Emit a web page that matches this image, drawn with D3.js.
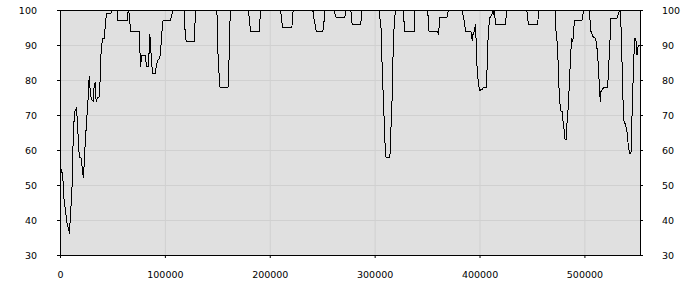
<!DOCTYPE html>
<html>
<head>
<meta charset="utf-8">
<script src="https://cdn.jsdelivr.net/npm/d3@7"></script>
<style>
  body { margin: 0; background: #fff; }
  text { font-family: "DejaVu Sans", Verdana, sans-serif; font-size: 9.5px; fill: #000; }
</style>
</head>
<body>
<svg id="canvas" width="700" height="300"></svg>
<script>
// sample positions and percentages
let xs = [
  635, 2538, 3807, 5075, 6979, 8247, 8882, 10151, 11420, 12054, 13323, 13957, 15860, 16495, 17764, 18398,
  20301, 21570, 22204, 22839, 24107, 26010, 26645, 27279, 28231, 28866, 30452, 31720, 32355, 33624, 34258,
  34892, 35527, 37430, 38064, 38699, 39333, 40602, 42505, 43139, 44408, 48214, 50117, 54558, 55192, 64074,
  65026, 65977, 67246, 75494, 76128, 76763, 78032, 81204, 82473, 84376, 85645, 86913, 88182, 90720, 91988,
  93257, 95160, 96429, 97698, 98332, 105311, 106580, 107848,
  118328, 118962, 120231, 127844, 128478, 129747, 149413, 150048, 150682, 151951, 152585, 160198, 160832,
  161467, 162101, 162736, 179864, 180499, 181767, 190014, 190648, 191283, 210314, 210950, 212219, 221100,
  221735, 222369,
  241095, 241729, 242998, 244267, 250611, 251880, 252514, 261396, 262030, 263299, 271546, 272180, 272815,
  277256, 277890, 278524, 286772, 287406, 288040, 304535, 305169, 306438, 307072, 308341, 309610, 310244,
  310879, 314051, 314685, 315320, 316589, 317223, 318492, 319760, 327373, 328008, 328642,
  337853, 338487, 350541, 351175, 351810, 360057, 360691, 361326, 361960, 368938, 369573, 370207, 383529,
  384164, 385433, 386702, 391777, 392411, 393046, 393680, 394949, 396218, 396852, 397487, 398755, 400024,
  402562, 403830, 406368, 407002, 407637, 408271, 409540, 411443, 412712, 413346, 413981, 414615, 415249,
  424766, 425400, 426035, 445067, 445701,
  446664, 455546, 456180, 472040, 472674, 474577, 475212, 476481, 477750, 479018, 479653, 480922, 481556,
  482825, 483459, 484728, 485997, 487266, 487900, 488534, 489169, 490438, 497416, 498050, 499319, 504394,
  505029, 506298, 508201, 510739, 512007, 513276, 514545, 515179, 515814, 517082, 518351, 522157, 522792,
  524061, 525329, 531039, 532942, 533577, 534211, 534846, 536114, 536749, 537383, 539286, 540555, 541824,
  543093, 544361, 544996, 545630, 546899, 547534, 548168, 549437, 550072, 550706, 551341, 552610
]
let ys = [
  55, 52.9, 46, 43, 38.6, 37.6, 36, 41.9, 49, 58.6, 68, 71, 72, 68, 61.4, 58,
  57.6, 53.8, 52, 54.8, 62.4, 71, 73.8, 79.5, 81, 75.7, 74.3, 74, 77.6, 79.5, 74.8,
  73.8, 75, 75.2, 78.6, 84.8, 89, 91.9, 92, 96, 99, 99, 100, 100, 97.1, 97.1,
  100, 99, 94, 94, 89, 83.8, 87.1, 87.1, 83.8, 84, 93, 87, 81.9, 81.9, 84.3,
  85.7, 86.2, 90.5, 95.7, 97.1, 97.1, 98.6, 100,
  100, 95.2, 91.1, 91.1, 95.2, 100, 100, 97.1, 87.1, 80, 77.9, 77.9, 81.4,
  90, 97.1, 100, 100, 97.1, 94, 94, 97.1, 100, 100, 98.1, 95, 95,
  98.1, 100,
  100, 98.1, 96.2, 94, 94, 97.1, 100, 100, 99, 97.9, 97.9, 99, 100,
  100, 98.1, 95.9, 95.9, 98.1, 100, 100, 97.1, 93.8, 84.3, 74.3, 64.3, 58.6,
  57.9, 57.9, 59, 64.3, 74.3, 84.3, 94.8, 100, 100, 96.7, 94,
  94, 100, 100, 97.1, 94, 94, 93, 94.5, 97.8, 97.8, 98.8, 100, 100,
  98.6, 96.7, 94, 94, 92.9, 91.1, 92.9, 93.8, 95.9, 90, 84.3, 79.5, 77,
  77.4, 77.8, 77.8, 81.4, 88.1, 92.9, 97.6, 98.6, 99.5, 98.6, 100, 98.1, 95.9,
  95.9, 98.1, 100, 100, 98.1,
  95.9, 95.9, 100, 100, 94.8, 89, 81, 73.8, 71, 71, 68, 65.2, 63,
  63, 68, 72.9, 81.4, 89, 91.9, 91, 91.9, 96.9, 96.9, 97.6, 100, 100,
  98.1, 93.8, 92.4, 91.9, 89, 84.3, 76.5, 73.8, 76.7, 77.4, 77.8, 77.8, 81.9,
  89, 97.6, 97.6, 99.5, 100, 100, 95.7, 82.4, 74.8, 68.6, 67.1, 65.2, 61.4,
  59, 59, 63.8, 73.8, 83.3, 90, 91.9, 91, 87.1, 88.6, 89.8, 90
]
let xTicks = [0, 100000, 200000, 300000, 400000, 500000]
let yTicks = [30, 40, 50, 60, 70, 80, 90, 100]

let points = xs.map((x, i) => [x, ys[i]])

let canvas = d3.select('#canvas')

let xScale = d3.scaleLinear().domain([0, 553000]).range([60, 640])
let yScale = d3.scaleLinear().domain([30, 100]).range([255, 10])

// plot background
canvas.append('rect')
    .attr('x', 60)
    .attr('y', 10)
    .attr('width', 580)
    .attr('height', 245)
    .attr('fill', '#e0e0e0')

// grid
canvas.append('g')
    .selectAll('line')
    .data(xTicks.slice(1))
    .enter()
    .append('line')
    .attr('x1', (d) => xScale(d) + 0.5)
    .attr('x2', (d) => xScale(d) + 0.5)
    .attr('y1', 10)
    .attr('y2', 255)
    .attr('stroke', '#d0d0d0')

canvas.append('g')
    .selectAll('line')
    .data(yTicks.slice(1, -1))
    .enter()
    .append('line')
    .attr('x1', 60)
    .attr('x2', 640)
    .attr('y1', (d) => yScale(d) + 0.5)
    .attr('y2', (d) => yScale(d) + 0.5)
    .attr('stroke', '#d0d0d0')

// the series
let line = d3.line()
    .x((d) => xScale(d[0]))
    .y((d) => yScale(d[1]))

canvas.append('path')
    .datum(points)
    .attr('d', line)
    .attr('fill', 'none')
    .attr('stroke', '#000')
    .attr('stroke-width', 1)
    .attr('shape-rendering', 'crispEdges')

// axes
let styleAxis = (g) => {
    g.selectAll('.domain').attr('stroke', '#000')
    g.selectAll('.tick line').attr('stroke', '#000')
    g.selectAll('text').attr('font-family', null).attr('font-size', null)
}

canvas.append('g')
    .attr('transform', 'translate(60,0)')
    .call(d3.axisLeft(yScale).tickValues(yTicks).tickSize(3).tickSizeOuter(0).tickPadding(20))
    .call(styleAxis)

canvas.append('g')
    .attr('transform', 'translate(640,0)')
    .call(d3.axisRight(yScale).tickValues(yTicks).tickSize(3).tickSizeOuter(0).tickPadding(19))
    .call(styleAxis)

canvas.append('g')
    .attr('transform', 'translate(0,255)')
    .call(d3.axisBottom(xScale).tickValues(xTicks).tickFormat(d3.format('d')).tickSize(3).tickSizeOuter(0).tickPadding(13))
    .call(styleAxis)

// top border
canvas.append('line')
    .attr('x1', 60)
    .attr('x2', 641)
    .attr('y1', 10.5)
    .attr('y2', 10.5)
    .attr('stroke', '#000')
</script>
</body>
</html>
